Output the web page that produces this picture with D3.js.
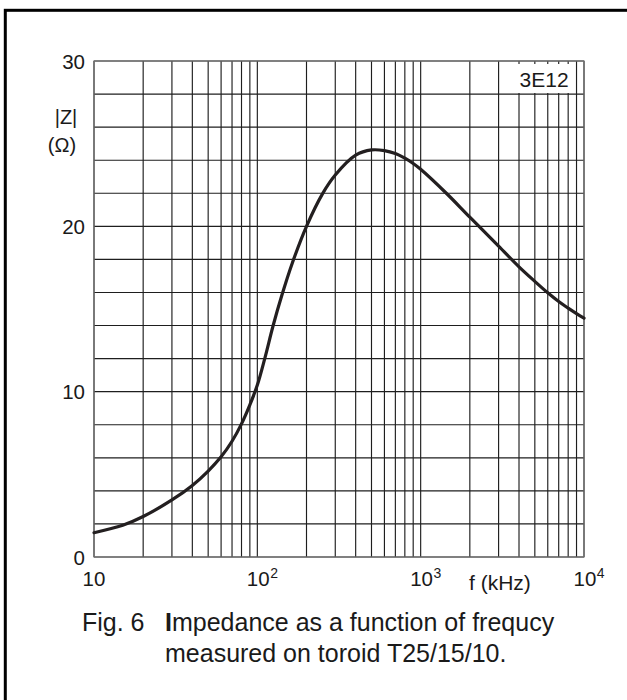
<!DOCTYPE html>
<html>
<head>
<meta charset="utf-8">
<script src="https://cdn.jsdelivr.net/npm/d3@7"></script>
<style>
  html, body { margin: 0; padding: 0; background: #fff; }
  svg { display: block; }
  text { font-family: "Liberation Sans", Arial, sans-serif; fill: #1a1a1a; }
</style>
</head>
<body>
<svg id="chart" width="627" height="700"></svg>
<script>
// ---- data ----
const freqKHz = [10, 15, 20, 30, 40, 50, 60, 70, 80, 90, 100, 111, 125, 141, 164, 200, 250, 300, 400, 500, 600, 700, 800, 900, 1000, 1436, 2000, 3000, 4000, 5000, 6000, 7000, 8000, 9000, 10000];
const impedance = [1.47, 1.92, 2.45, 3.45, 4.33, 5.2, 6.06, 7.0, 8.05, 9.2, 10.4, 12, 14, 15.8, 17.8, 20, 21.95, 23.1, 24.3, 24.62, 24.58, 24.4, 24.12, 23.8, 23.45, 22, 20.55, 18.8, 17.55, 16.67, 15.98, 15.45, 15.05, 14.72, 14.45];
const yTicks = [0, 10, 20, 30];
const yGrid = d3.range(0, 31, 2);
const xDecades = [10, 100, 1000, 10000];
const xTickLabels = [{base: "10", exp: ""}, {base: "10", exp: "2"}, {base: "10", exp: "3"}, {base: "10", exp: "4"}];
const materialLabel = "3E12";
const yLabel1 = "|Z|";
const yLabel2 = "(\u03A9)";
const xLabel = "f (kHz)";
const captionFig = "Fig. 6";
const captionLine1 = "mpedance as a function of frequcy";
const captionLine2 = "measured on toroid T25/15/10.";

// ---- layout ----
const svg = d3.select("#chart");
const L = 94, T = 61, W = 490, H = 496;

// outer frame (right/bottom edges fall outside the picture)
svg.append("rect").attr("x", 5.3).attr("y", 10.3).attr("width", 800).attr("height", 900)
  .attr("fill", "none").attr("stroke", "#000").attr("stroke-width", 3);

const x = d3.scaleLog().domain([10, 10000]).range([L, L + W]);
const y = d3.scaleLinear().domain([0, 30]).range([T + H, T]);

const g = svg.append("g");

// minor/major vertical grid lines
const xGrid = [];
for (let d = 10; d < 10000; d *= 10) for (let k = 1; k < 10; k++) xGrid.push(d * k);
xGrid.push(10000);

g.selectAll("line.vg").data(xGrid).join("line").attr("class", "vg")
  .attr("x1", d => x(d)).attr("x2", d => x(d)).attr("y1", y(0)).attr("y2", y(30))
  .attr("stroke", "#1e1e1e").attr("stroke-width", 1.15);

g.selectAll("line.hg").data(yGrid).join("line").attr("class", "hg")
  .attr("x1", x(10)).attr("x2", x(10000)).attr("y1", d => y(d)).attr("y2", d => y(d))
  .attr("stroke", "#1e1e1e").attr("stroke-width", 1.15);

// plot border slightly grey
g.append("rect").attr("x", x(10)).attr("y", y(30)).attr("width", x(10000) - x(10)).attr("height", y(0) - y(30))
  .attr("fill", "none").attr("stroke", "#777").attr("stroke-width", 1.2);

// material label box
svg.append("rect").attr("x", x(3600)).attr("y", y(30) + 3).attr("width", x(8600) - x(3600)).attr("height", 29)
  .attr("fill", "#fff");
svg.append("text").attr("x", x(5700)).attr("y", y(30) + 25.5).attr("text-anchor", "middle")
  .attr("font-size", 21).text(materialLabel);

// curve
const line = d3.line().x((d, i) => x(freqKHz[i])).y(d => y(d)).curve(d3.curveCatmullRom.alpha(0.5));
svg.append("path").datum(impedance).attr("d", line)
  .attr("fill", "none").attr("stroke", "#231f20").attr("stroke-width", 3.2)
  .attr("stroke-linejoin", "round").attr("stroke-linecap", "round");

// y tick labels
svg.selectAll("text.yt").data(yTicks).join("text").attr("class", "yt")
  .attr("x", 85).attr("y", d => y(d) + 7.5).attr("text-anchor", "end")
  .attr("font-size", 20.5).text(d => d);

// y axis label
svg.append("text").attr("x", 66).attr("y", 124).attr("text-anchor", "middle").attr("font-size", 20).text(yLabel1);
svg.append("text").attr("x", 62).attr("y", 152).attr("text-anchor", "middle").attr("font-size", 20).text(yLabel2);

// x tick labels
xDecades.forEach((d, i) => {
  const t = svg.append("text").attr("y", 586).attr("font-size", 20.5);
  const lab = xTickLabels[i];
  if (lab.exp === "") {
    t.attr("x", x(d)).attr("text-anchor", "middle").text(lab.base);
  } else {
    t.attr("x", x(d) - 10.5).attr("text-anchor", "start");
    t.append("tspan").text(lab.base);
    t.append("tspan").attr("font-size", 14).attr("dy", -8.5).attr("dx", 0.5).text(lab.exp);
  }
});

svg.append("text").attr("x", 469).attr("y", 590).attr("font-size", 21).text(xLabel);

// caption
const capSize = 25;
svg.append("text").attr("x", 82).attr("y", 631).attr("font-size", capSize).text(captionFig);
const c1 = svg.append("text").attr("x", 165).attr("y", 631).attr("font-size", capSize);
c1.append("tspan").attr("font-weight", "bold").text("I");
c1.append("tspan").text(captionLine1);
svg.append("text").attr("x", 165).attr("y", 662).attr("font-size", capSize).text(captionLine2);
</script>
</body>
</html>
